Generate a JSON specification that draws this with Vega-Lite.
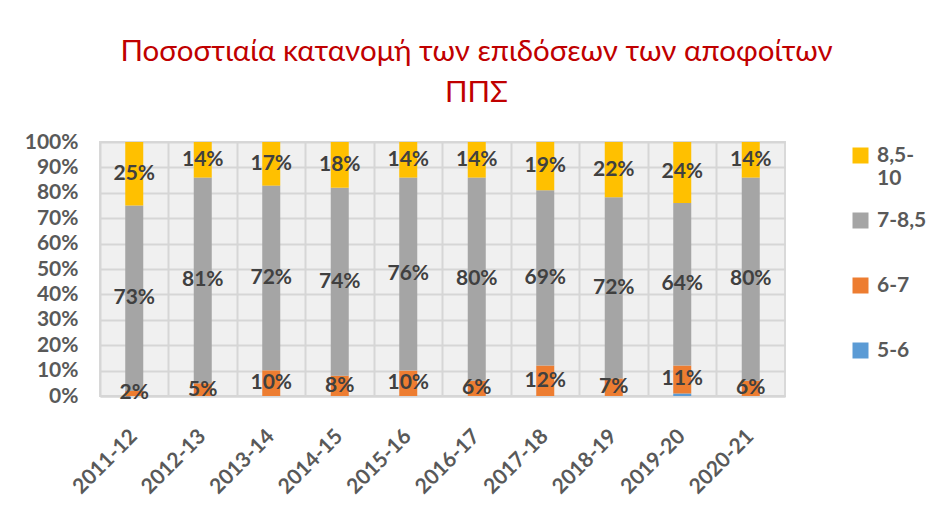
{
  "$schema": "https://vega.github.io/schema/vega-lite/v6.json",
  "autosize": "none",
  "padding": {"left": 100, "top": 142, "right": 148, "bottom": 118},
  "width": 685,
  "height": 254,
  "background": "white",
  "title": {
    "text": ["Ποσοστιαία κατανομή των επιδόσεων των αποφοίτων", "ΠΠΣ"],
    "font": "Lato",
    "fontSize": 29.5,
    "fontWeight": "normal",
    "color": "#C00000",
    "lineHeight": 41,
    "anchor": "middle",
    "dx": 34,
    "offset": 23
  },
  "config": {
    "view": {"stroke": "#d9d9d9", "strokeWidth": 2, "fill": "#f0f0f0"},
    "font": "Lato"
  },
  "data": {
    "values": [
      {"year": "2011-12", "cat": "6-7", "v": 2, "lab": "2%"},
      {"year": "2011-12", "cat": "7-8,5", "v": 73, "lab": "73%"},
      {"year": "2011-12", "cat": "8,5-10", "v": 25, "lab": "25%"},
      {"year": "2012-13", "cat": "6-7", "v": 5, "lab": "5%"},
      {"year": "2012-13", "cat": "7-8,5", "v": 81, "lab": "81%"},
      {"year": "2012-13", "cat": "8,5-10", "v": 14, "lab": "14%"},
      {"year": "2013-14", "cat": "6-7", "v": 10, "lab": "10%"},
      {"year": "2013-14", "cat": "7-8,5", "v": 72, "lab": "72%"},
      {"year": "2013-14", "cat": "8,5-10", "v": 17, "lab": "17%"},
      {"year": "2014-15", "cat": "6-7", "v": 8, "lab": "8%"},
      {"year": "2014-15", "cat": "7-8,5", "v": 74, "lab": "74%"},
      {"year": "2014-15", "cat": "8,5-10", "v": 18, "lab": "18%"},
      {"year": "2015-16", "cat": "6-7", "v": 10, "lab": "10%"},
      {"year": "2015-16", "cat": "7-8,5", "v": 76, "lab": "76%"},
      {"year": "2015-16", "cat": "8,5-10", "v": 14, "lab": "14%"},
      {"year": "2016-17", "cat": "6-7", "v": 6, "lab": "6%"},
      {"year": "2016-17", "cat": "7-8,5", "v": 80, "lab": "80%"},
      {"year": "2016-17", "cat": "8,5-10", "v": 14, "lab": "14%"},
      {"year": "2017-18", "cat": "6-7", "v": 12, "lab": "12%"},
      {"year": "2017-18", "cat": "7-8,5", "v": 69, "lab": "69%"},
      {"year": "2017-18", "cat": "8,5-10", "v": 19, "lab": "19%"},
      {"year": "2018-19", "cat": "6-7", "v": 7, "lab": "7%"},
      {"year": "2018-19", "cat": "7-8,5", "v": 72, "lab": "72%"},
      {"year": "2018-19", "cat": "8,5-10", "v": 22, "lab": "22%"},
      {"year": "2019-20", "cat": "5-6", "v": 1, "lab": ""},
      {"year": "2019-20", "cat": "6-7", "v": 11, "lab": "11%"},
      {"year": "2019-20", "cat": "7-8,5", "v": 64, "lab": "64%"},
      {"year": "2019-20", "cat": "8,5-10", "v": 24, "lab": "24%"},
      {"year": "2020-21", "cat": "6-7", "v": 6, "lab": "6%"},
      {"year": "2020-21", "cat": "7-8,5", "v": 80, "lab": "80%"},
      {"year": "2020-21", "cat": "8,5-10", "v": 14, "lab": "14%"}
    ]
  },
  "layer": [
    {
      "mark": {"type": "bar", "width": 18},
      "encoding": {
        "x": {
          "field": "year", "type": "nominal", "sort": null,
          "scale": {"paddingInner": 0, "paddingOuter": 0},
          "axis": {"orient": "top", "grid": true, "bandPosition": 0, "gridColor": "#d6d6d6", "gridWidth": 2, "labels": false, "ticks": false, "domain": false, "title": null}
        },
        "y": {
          "field": "v", "type": "quantitative", "aggregate": "sum", "stack": "normalize",
          "scale": {"domain": [0, 1]},
          "axis": {"values": [0, 0.1, 0.2, 0.3, 0.4, 0.5, 0.6, 0.7, 0.8, 0.9, 1], "format": ".0%", "labelOverlap": false, "grid": true, "gridColor": "#d6d6d6", "gridWidth": 2, "ticks": false, "domain": false, "labelFontSize": 21, "labelFontWeight": "bold", "labelColor": "#595959", "labelPadding": 22, "title": null}
        },
        "color": {
          "field": "cat", "type": "nominal",
          "scale": {"domain": ["8,5-10", "7-8,5", "6-7", "5-6"], "range": ["#FFC000", "#A5A5A5", "#ED7D31", "#5B9BD5"]},
          "legend": {
            "title": null, "orient": "none", "legendX": 750, "legendY": 3,
            "symbolType": "square", "symbolSize": 256, "symbolStrokeWidth": 0,
            "labelFontSize": 21, "labelFontWeight": "bold", "labelColor": "#595959",
            "labelOffset": 6, "rowPadding": 20, "labelLimit": 120, "gridAlign": "all",
            "labelExpr": "datum.label == '8,5-10' ? ['8,5-', '10'] : datum.label"
          }
        },
        "order": {"field": "cat", "sort": "ascending"}
      }
    },
    {
      "mark": {"type": "text", "fontSize": 21, "fontWeight": "bold", "color": "#404040"},
      "encoding": {
        "x": {
          "field": "year", "type": "nominal", "sort": null,
          "axis": {"orient": "bottom", "grid": false, "labelAngle": -45, "labelAlign": "right", "labelBaseline": "middle", "labelFontSize": 21, "labelFontWeight": "bold", "labelColor": "#595959", "labelPadding": 37, "ticks": false, "domain": true, "domainColor": "#d6d6d6", "domainWidth": 2, "title": null}
        },
        "y": {
          "field": "v", "type": "quantitative", "aggregate": "sum", "stack": "normalize", "bandPosition": 0.5,
          "axis": {"values": [0, 0.1, 0.2, 0.3, 0.4, 0.5, 0.6, 0.7, 0.8, 0.9, 1], "format": ".0%", "labelOverlap": false, "grid": true, "gridColor": "#d6d6d6", "gridWidth": 2, "ticks": false, "domain": false, "labelFontSize": 21, "labelFontWeight": "bold", "labelColor": "#595959", "labelPadding": 22, "title": null}
        },
        "detail": {"field": "cat"},
        "order": {"field": "cat", "sort": "ascending"},
        "text": {"field": "lab"}
      }
    }
  ],
  "resolve": {"axis": {"x": "independent"}}
}
